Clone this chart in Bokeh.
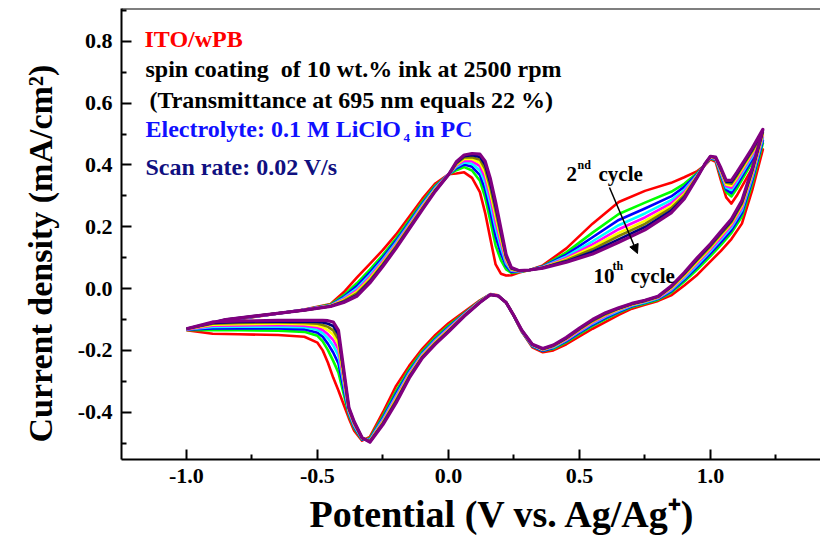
from bokeh.plotting import figure
from bokeh.models import (Label, Span, Arrow, NormalHead, FixedTicker,
                          PrintfTickFormatter, Range1d, Title)
from bokeh.embed import file_html
from bokeh.resources import INLINE

# ---- cyclic voltammetry data: ITO/wPB film, cycles 2..10 -----------------
# anodic sweep (-1.0 V -> 1.2 V)
potential_fwd = [-1.0, -0.85, -0.7, -0.55, -0.45, -0.4, -0.35, -0.3, -0.25, -0.2,
                 -0.15, -0.1, -0.05, 0.0, 0.03, 0.06, 0.09, 0.12, 0.14, 0.16,
                 0.18, 0.2, 0.22, 0.24, 0.27, 0.31, 0.36, 0.45, 0.55, 0.65,
                 0.75, 0.85, 0.9, 0.95, 0.98, 1.0, 1.02, 1.04, 1.06, 1.08,
                 1.1, 1.13, 1.16, 1.2]
# cathodic sweep (1.2 V -> -1.0 V)
potential_rev = [1.2, 1.16, 1.12, 1.08, 1.04, 1.0, 0.95, 0.9, 0.85, 0.8,
                 0.75, 0.7, 0.65, 0.6, 0.55, 0.5, 0.45, 0.4, 0.36, 0.32,
                 0.28, 0.25, 0.22, 0.19, 0.16, 0.12, 0.06, 0.0, -0.05, -0.1,
                 -0.15, -0.2, -0.25, -0.3, -0.33, -0.36, -0.38, -0.4, -0.42, -0.44,
                 -0.46, -0.48, -0.5, -0.55, -0.65, -0.8, -0.9, -1.0]

cycles = [2, 3, 4, 5, 6, 7, 8, 9, 10]
cycle_colors = ["#FF0000", "#00FF00", "#0000FF", "#00FFFF", "#FF00FF",
                "#FFFF00", "#808000", "#000080", "#800080"]

# current density (mA/cm2), anodic sweep
j_fwd_c2 = [-0.135, -0.105, -0.087, -0.068, -0.050, -0.012, 0.035, 0.080, 0.125, 0.175, 0.232, 0.290, 0.340, 0.370, 0.372, 0.376, 0.358, 0.312, 0.245, 0.160, 0.078, 0.048, 0.042, 0.043, 0.052, 0.060, 0.075, 0.130, 0.210, 0.280, 0.316, 0.342, 0.360, 0.380, 0.400, 0.418, 0.410, 0.350, 0.295, 0.275, 0.300, 0.345, 0.390, 0.450]
j_fwd_c3 = [-0.134, -0.104, -0.086, -0.069, -0.052, -0.022, 0.017, 0.061, 0.109, 0.162, 0.220, 0.280, 0.333, 0.369, 0.383, 0.393, 0.382, 0.349, 0.295, 0.219, 0.139, 0.092, 0.062, 0.051, 0.054, 0.060, 0.072, 0.117, 0.181, 0.241, 0.278, 0.313, 0.339, 0.374, 0.402, 0.421, 0.415, 0.362, 0.312, 0.298, 0.323, 0.366, 0.410, 0.470]
j_fwd_c4 = [-0.133, -0.103, -0.086, -0.069, -0.054, -0.027, 0.008, 0.052, 0.101, 0.155, 0.214, 0.274, 0.329, 0.369, 0.389, 0.401, 0.394, 0.367, 0.320, 0.248, 0.169, 0.114, 0.073, 0.054, 0.055, 0.060, 0.071, 0.110, 0.166, 0.222, 0.259, 0.298, 0.329, 0.371, 0.402, 0.423, 0.417, 0.368, 0.320, 0.309, 0.334, 0.377, 0.419, 0.479]
j_fwd_c5 = [-0.132, -0.102, -0.086, -0.069, -0.055, -0.031, 0.000, 0.044, 0.094, 0.149, 0.209, 0.270, 0.326, 0.369, 0.394, 0.408, 0.404, 0.383, 0.342, 0.273, 0.195, 0.133, 0.081, 0.058, 0.055, 0.060, 0.070, 0.104, 0.153, 0.205, 0.243, 0.286, 0.319, 0.368, 0.403, 0.424, 0.419, 0.373, 0.327, 0.319, 0.344, 0.386, 0.428, 0.488]
j_fwd_c6 = [-0.132, -0.102, -0.086, -0.069, -0.055, -0.034, -0.006, 0.038, 0.089, 0.144, 0.205, 0.266, 0.323, 0.369, 0.398, 0.414, 0.412, 0.396, 0.359, 0.293, 0.215, 0.148, 0.088, 0.060, 0.056, 0.060, 0.069, 0.099, 0.143, 0.192, 0.230, 0.276, 0.312, 0.366, 0.403, 0.425, 0.420, 0.377, 0.332, 0.326, 0.351, 0.393, 0.434, 0.494]
j_fwd_c7 = [-0.131, -0.101, -0.085, -0.070, -0.056, -0.037, -0.011, 0.032, 0.084, 0.140, 0.201, 0.263, 0.321, 0.368, 0.401, 0.419, 0.419, 0.407, 0.374, 0.310, 0.234, 0.161, 0.094, 0.062, 0.057, 0.060, 0.068, 0.095, 0.135, 0.180, 0.219, 0.267, 0.306, 0.365, 0.404, 0.426, 0.422, 0.381, 0.337, 0.333, 0.358, 0.399, 0.440, 0.500]
j_fwd_c8 = [-0.131, -0.101, -0.085, -0.070, -0.057, -0.040, -0.016, 0.027, 0.080, 0.137, 0.198, 0.260, 0.319, 0.368, 0.404, 0.424, 0.425, 0.417, 0.387, 0.326, 0.250, 0.173, 0.100, 0.064, 0.057, 0.060, 0.067, 0.092, 0.127, 0.170, 0.209, 0.260, 0.301, 0.363, 0.404, 0.427, 0.423, 0.384, 0.342, 0.339, 0.364, 0.405, 0.445, 0.505]
j_fwd_c9 = [-0.130, -0.100, -0.085, -0.070, -0.057, -0.043, -0.021, 0.022, 0.076, 0.133, 0.195, 0.257, 0.317, 0.368, 0.407, 0.428, 0.431, 0.426, 0.400, 0.341, 0.266, 0.185, 0.105, 0.066, 0.058, 0.060, 0.067, 0.088, 0.119, 0.159, 0.199, 0.252, 0.295, 0.361, 0.405, 0.427, 0.424, 0.387, 0.346, 0.345, 0.370, 0.410, 0.450, 0.510]
j_fwd_c10 = [-0.130, -0.100, -0.085, -0.070, -0.058, -0.045, -0.025, 0.018, 0.072, 0.130, 0.192, 0.255, 0.315, 0.368, 0.410, 0.432, 0.437, 0.435, 0.412, 0.355, 0.280, 0.195, 0.110, 0.068, 0.058, 0.060, 0.066, 0.085, 0.112, 0.150, 0.190, 0.245, 0.290, 0.360, 0.405, 0.428, 0.425, 0.390, 0.350, 0.350, 0.375, 0.415, 0.455, 0.515]

# current density (mA/cm2), cathodic sweep
j_rev_c2 = [0.450, 0.320, 0.210, 0.160, 0.122, 0.088, 0.045, 0.010, -0.022, -0.040, -0.052, -0.065, -0.085, -0.108, -0.130, -0.155, -0.180, -0.200, -0.206, -0.190, -0.140, -0.090, -0.045, -0.022, -0.018, -0.038, -0.075, -0.112, -0.150, -0.195, -0.250, -0.315, -0.400, -0.480, -0.492, -0.460, -0.420, -0.375, -0.330, -0.288, -0.240, -0.200, -0.175, -0.156, -0.150, -0.148, -0.146, -0.135]
j_rev_c3 = [0.470, 0.341, 0.233, 0.180, 0.141, 0.105, 0.062, 0.023, -0.013, -0.036, -0.048, -0.060, -0.078, -0.099, -0.121, -0.147, -0.173, -0.195, -0.202, -0.187, -0.139, -0.089, -0.045, -0.023, -0.019, -0.040, -0.080, -0.120, -0.159, -0.204, -0.262, -0.332, -0.412, -0.485, -0.489, -0.451, -0.410, -0.341, -0.272, -0.234, -0.199, -0.171, -0.153, -0.140, -0.136, -0.135, -0.135, -0.134]
j_rev_c4 = [0.479, 0.352, 0.244, 0.189, 0.150, 0.114, 0.070, 0.029, -0.009, -0.033, -0.046, -0.057, -0.075, -0.095, -0.117, -0.143, -0.170, -0.192, -0.201, -0.186, -0.138, -0.089, -0.045, -0.023, -0.019, -0.041, -0.082, -0.125, -0.164, -0.209, -0.268, -0.340, -0.418, -0.488, -0.488, -0.447, -0.404, -0.323, -0.242, -0.207, -0.179, -0.156, -0.143, -0.132, -0.129, -0.129, -0.129, -0.133]
j_rev_c5 = [0.488, 0.361, 0.254, 0.198, 0.159, 0.121, 0.077, 0.034, -0.005, -0.031, -0.044, -0.055, -0.072, -0.091, -0.113, -0.139, -0.167, -0.190, -0.199, -0.184, -0.137, -0.089, -0.045, -0.023, -0.019, -0.042, -0.084, -0.128, -0.167, -0.212, -0.273, -0.347, -0.423, -0.490, -0.486, -0.443, -0.400, -0.308, -0.217, -0.184, -0.161, -0.144, -0.133, -0.125, -0.123, -0.123, -0.124, -0.132]
j_rev_c6 = [0.494, 0.368, 0.261, 0.204, 0.165, 0.127, 0.082, 0.039, -0.002, -0.030, -0.042, -0.053, -0.069, -0.088, -0.110, -0.137, -0.165, -0.188, -0.198, -0.183, -0.137, -0.089, -0.045, -0.023, -0.019, -0.043, -0.085, -0.131, -0.170, -0.215, -0.277, -0.352, -0.427, -0.492, -0.485, -0.440, -0.396, -0.297, -0.197, -0.166, -0.148, -0.134, -0.126, -0.120, -0.118, -0.119, -0.120, -0.132]
j_rev_c7 = [0.500, 0.374, 0.268, 0.210, 0.171, 0.132, 0.087, 0.042, 0.001, -0.028, -0.041, -0.052, -0.067, -0.085, -0.107, -0.134, -0.163, -0.187, -0.197, -0.182, -0.136, -0.088, -0.045, -0.024, -0.020, -0.043, -0.087, -0.134, -0.173, -0.218, -0.281, -0.357, -0.431, -0.493, -0.484, -0.437, -0.393, -0.286, -0.180, -0.149, -0.135, -0.125, -0.120, -0.115, -0.114, -0.115, -0.117, -0.131]
j_rev_c8 = [0.505, 0.380, 0.274, 0.215, 0.176, 0.136, 0.092, 0.046, 0.004, -0.027, -0.040, -0.051, -0.065, -0.083, -0.105, -0.132, -0.161, -0.186, -0.196, -0.182, -0.136, -0.088, -0.045, -0.024, -0.020, -0.044, -0.088, -0.136, -0.176, -0.221, -0.284, -0.362, -0.434, -0.494, -0.484, -0.435, -0.390, -0.277, -0.164, -0.135, -0.124, -0.118, -0.114, -0.111, -0.110, -0.111, -0.114, -0.131]
j_rev_c9 = [0.510, 0.385, 0.280, 0.220, 0.181, 0.141, 0.096, 0.049, 0.006, -0.026, -0.039, -0.049, -0.064, -0.080, -0.102, -0.130, -0.160, -0.184, -0.195, -0.181, -0.135, -0.088, -0.045, -0.024, -0.020, -0.045, -0.089, -0.138, -0.178, -0.223, -0.287, -0.366, -0.437, -0.496, -0.483, -0.432, -0.387, -0.268, -0.149, -0.121, -0.114, -0.110, -0.108, -0.107, -0.106, -0.108, -0.111, -0.130]
j_rev_c10 = [0.515, 0.390, 0.285, 0.225, 0.185, 0.145, 0.100, 0.052, 0.008, -0.025, -0.038, -0.048, -0.062, -0.078, -0.100, -0.128, -0.158, -0.183, -0.194, -0.180, -0.135, -0.088, -0.045, -0.024, -0.020, -0.045, -0.090, -0.140, -0.180, -0.225, -0.290, -0.370, -0.440, -0.497, -0.482, -0.430, -0.385, -0.260, -0.135, -0.108, -0.104, -0.103, -0.103, -0.103, -0.103, -0.105, -0.108, -0.130]

x_ticks = [-1.0, -0.5, 0.0, 0.5, 1.0]
x_minor = [-1.25, -0.75, -0.25, 0.25, 0.75, 1.25]
y_ticks = [-0.4, -0.2, 0.0, 0.2, 0.4, 0.6, 0.8]
y_minor = [-0.5, -0.3, -0.1, 0.1, 0.3, 0.5, 0.7, 0.9]

fwd_sets = [j_fwd_c2, j_fwd_c3, j_fwd_c4, j_fwd_c5, j_fwd_c6, j_fwd_c7, j_fwd_c8, j_fwd_c9, j_fwd_c10]
rev_sets = [j_rev_c2, j_rev_c3, j_rev_c4, j_rev_c5, j_rev_c6, j_rev_c7, j_rev_c8, j_rev_c9, j_rev_c10]
for a in fwd_sets:
    assert len(a) == len(potential_fwd)
for a in rev_sets:
    assert len(a) == len(potential_rev)

# ---- figure -----------------------------------------------------------------
X0, X1 = -1.248, 1.42
Y0, Y1 = -0.553, 0.906
W, H = 820, 548
LEFT, TOP, BOTTOM = 121, 8, 89
FW, FH = W - LEFT, H - TOP - BOTTOM

p = figure(width=W, height=H, x_range=Range1d(X0, X1), y_range=Range1d(Y0, Y1),
           output_backend="svg", toolbar_location=None,
           min_border_left=LEFT, min_border_right=0, min_border_top=TOP,
           min_border_bottom=BOTTOM, outline_line_color=None,
           background_fill_color="white", border_fill_color="white")
p.grid.visible = False

FONT = "Liberation Serif"


def dx(px):
    """canvas pixel column -> data x"""
    return X0 + (px - LEFT) * (X1 - X0) / FW


def dy(py):
    """canvas pixel row -> data y"""
    return Y1 - (py - TOP) * (Y1 - Y0) / FH


for ax in (p.xaxis[0], p.yaxis[0]):
    ax.axis_line_width = 2
    ax.axis_line_color = "black"
    ax.major_tick_in = 10
    ax.major_tick_out = 0
    ax.minor_tick_in = 5
    ax.minor_tick_out = 0
    ax.major_tick_line_width = 2
    ax.minor_tick_line_width = 2
    ax.major_tick_line_color = "black"
    ax.minor_tick_line_color = "black"
    ax.major_label_text_font = FONT
    ax.major_label_text_font_style = "bold"
    ax.major_label_text_font_size = "22px"
    ax.major_label_text_color = "black"
    ax.major_label_standoff = 9
    ax.formatter = PrintfTickFormatter(format="%.1f")

p.xaxis[0].ticker = FixedTicker(ticks=x_ticks, minor_ticks=x_minor)
p.yaxis[0].ticker = FixedTicker(ticks=y_ticks, minor_ticks=y_minor)

# axis titles as side titles (start-aligned, shifted along the frame)
p.add_layout(Title(text="Current density (mA/cm\u00b2)", align="left", offset=17,
                   standoff=32, text_font=FONT, text_font_style="bold",
                   text_font_size="34px", text_color="black"), "left")
p.add_layout(Title(text="Potential (V vs. Ag/Ag\u207a)", align="left", offset=188,
                   standoff=10, text_font=FONT, text_font_style="bold",
                   text_font_size="38px", text_color="black"), "below")

# top frame edge
p.add_layout(Span(location=Y1, dimension="width", line_color="black", line_width=2))

# ---- curves (2nd cycle first, 10th cycle drawn on top) ----------------------
for cyc, col, jf, jr in zip(cycles, cycle_colors, fwd_sets, rev_sets):
    xs = potential_fwd + potential_rev[1:]
    ys = jf + jr[1:]
    p.line(xs, ys, line_color=col, line_width=3.2 if cyc == 10 else 2.6,
           line_join="round")


def put(text, px, py, size, color="black", style="bold"):
    p.add_layout(Label(x=dx(px), y=dy(py), text=text, text_font=FONT,
                       text_font_size=f"{size}px", text_font_style=style,
                       text_color=color, text_align="left",
                       text_baseline="alphabetic"))


# ---- annotations inside the plot --------------------------------------------
put("ITO/wPB", 144, 38, 24, color="#FF0000")
put("spin coating \u00a0of 10 wt.% ink at 2500 rpm", 145, 68, 24)
put("(Transmittance at 695 nm equals 22 %)", 149, 99, 24)
put("Electrolyte: 0.1 M LiClO", 145, 128, 24, color="#1010FF")
put("4", 403, 137, 13, color="#1010FF")
put("in PC", 414, 128, 24, color="#1010FF")
put("Scan rate: 0.02 V/s", 145, 166, 24, color="#101080")

put("2", 566, 173, 21)
put("nd", 577, 164, 12)
put("cycle", 598, 173, 21)
put("10", 593, 275, 21)
put("th", 612, 265, 12)
put("cycle", 630, 275, 21)

p.add_layout(Arrow(end=NormalHead(size=9, fill_color="black", line_color="black"),
                   x_start=dx(609), y_start=dy(187), x_end=dx(637), y_end=dy(253),
                   line_color="black", line_width=1.5))

open("out.html", "w").write(file_html(p, INLINE))
